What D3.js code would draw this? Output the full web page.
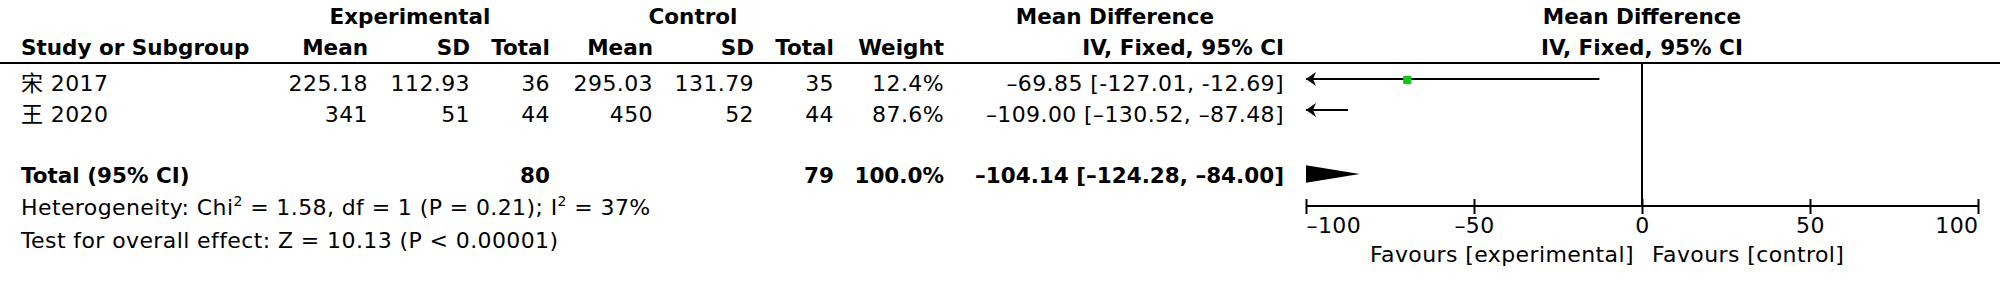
<!DOCTYPE html>
<html>
<head>
<meta charset="utf-8">
<script src="https://cdn.jsdelivr.net/npm/d3@7"></script>
<style>
  html, body { margin: 0; padding: 0; background: #fff; }
  svg text { font-family: "DejaVu Sans", "Noto Sans CJK SC", sans-serif; font-size: 22px; letter-spacing: 0.4px; fill: #000; }
  svg text.b { font-weight: bold; font-size: 21.5px; letter-spacing: 0; }
</style>
</head>
<body>
<div id="canvas"></div>
<script>
// //The data.
var studies = ["宋 2017", "王 2020"];
var expMean = [225.18, 341];
var expSD = [112.93, 51];
var expN = [36, 44];
var ctlMean = [295.03, 450];
var ctlSD = [131.79, 52];
var ctlN = [35, 44];
var weights = [12.4, 87.6];
var md = [-69.85, -109.00];
var mdLo = [-127.01, -130.52];
var mdHi = [-12.69, -87.48];
var loText = ["-127.01", "–130.52"];   // the first row uses a plain hyphen in the picture
var hiText = ["-12.69", "–87.48"];

var totalExpN = [80];
var totalCtlN = [79];
var totalWeight = [100.0];
var totalMd = [-104.14, -124.28, -84.00];   // estimate, lower, upper

var het = { chi2: 1.58, df: 1, p: "0.21", i2: 37 };
var overall = { z: 10.13, p: "< 0.00001" };

var ticks = [-100, -50, 0, 50, 100];
var favours = ["Favours [experimental]", "Favours [control]"];

window.app = {};

function dash(v) {
  return v < 0 ? "–" + String(Math.abs(v)) : String(v);
}
function dash2(v) {
  return v < 0 ? "–" + Math.abs(v).toFixed(2) : v.toFixed(2);
}

// //Draws the whole forest plot.
window.app.RenderForest = function () {
  var svg = d3.select("#canvas").append("svg")
      .attr("width", 2000)
      .attr("height", 286);

  svg.append("rect").attr("width", 2000).attr("height", 286).attr("fill", "#fff");

  var x = d3.scaleLinear().domain([-100, 100]).range([1306, 1978]);

  // columns: right edges of the numeric columns
  var col = { study: 21, eMean: 368, eSD: 470, eN: 550, cMean: 653, cSD: 754, cN: 834, w: 944, ci: 1284 };
  var rowY = [91, 122];
  var totalY = 183;

  function txt(xp, yp, s, anchor, cls) {
    return svg.append("text")
      .attr("x", xp).attr("y", yp)
      .attr("text-anchor", anchor || "end")
      .attr("class", cls || null)
      .text(s);
  }

  // headers
  txt(410, 24, "Experimental", "middle", "b");
  txt(693, 24, "Control", "middle", "b");
  txt(1115, 24, "Mean Difference", "middle", "b");
  txt(x(0), 24, "Mean Difference", "middle", "b");

  txt(col.study, 55, "Study or Subgroup", "start", "b");
  txt(col.eMean, 55, "Mean", "end", "b");
  txt(col.eSD, 55, "SD", "end", "b");
  txt(col.eN, 55, "Total", "end", "b");
  txt(col.cMean, 55, "Mean", "end", "b");
  txt(col.cSD, 55, "SD", "end", "b");
  txt(col.cN, 55, "Total", "end", "b");
  txt(col.w, 55, "Weight", "end", "b");
  txt(col.ci, 55, "IV, Fixed, 95% CI", "end", "b");
  txt(x(0), 55, "IV, Fixed, 95% CI", "middle", "b");

  svg.append("line")
    .attr("x1", 0).attr("x2", 2000)
    .attr("y1", 63).attr("y2", 63)
    .attr("stroke", "#000").attr("stroke-width", 2);

  // study rows
  studies.forEach(function (s, i) {
    var y = rowY[i];
    txt(col.study, y, s, "start");
    txt(col.eMean, y, String(expMean[i]));
    txt(col.eSD, y, String(expSD[i]));
    txt(col.eN, y, String(expN[i]));
    txt(col.cMean, y, String(ctlMean[i]));
    txt(col.cSD, y, String(ctlSD[i]));
    txt(col.cN, y, String(ctlN[i]));
    txt(col.w, y, weights[i].toFixed(1) + "%");
    txt(col.ci, y, dash2(md[i]) + " [" + loText[i] + ", " + hiText[i] + "]");
  });

  // total row
  txt(col.study, totalY, "Total (95% CI)", "start", "b");
  txt(col.eN, totalY, String(totalExpN[0]), "end", "b");
  txt(col.cN, totalY, String(totalCtlN[0]), "end", "b");
  txt(col.w, totalY, totalWeight[0].toFixed(1) + "%", "end", "b");
  txt(col.ci, totalY, dash2(totalMd[0]) + " [" + dash2(totalMd[1]) + ", " + dash2(totalMd[2]) + "]", "end", "b");

  // heterogeneity and overall effect
  var h = txt(col.study, 215, "", "start");
  h.append("tspan").text("Heterogeneity: Chi");
  h.append("tspan").attr("font-size", "14px").attr("dy", -9).text("2");
  h.append("tspan").attr("dy", 9).text(" = " + het.chi2.toFixed(2) + ", df = " + het.df + " (P = " + het.p + "); I");
  h.append("tspan").attr("font-size", "14px").attr("dy", -9).text("2");
  h.append("tspan").attr("dy", 9).text(" = " + het.i2 + "%");

  txt(col.study, 248, "Test for overall effect: Z = " + overall.z.toFixed(2) + " (P " + overall.p + ")", "start");

  // plot area
  var plotTop = 63, axisY = 206;

  svg.append("line")
    .attr("x1", x(0)).attr("x2", x(0))
    .attr("y1", plotTop).attr("y2", axisY)
    .attr("stroke", "#000").attr("stroke-width", 2);

  var dom = x.domain();

  studies.forEach(function (s, i) {
    var y = rowY[i] - 12;
    var a = Math.max(mdLo[i], dom[0]), b = Math.min(mdHi[i], dom[1]);
    svg.append("line")
      .attr("x1", x(a)).attr("x2", x(b))
      .attr("y1", y).attr("y2", y)
      .attr("stroke", "#000").attr("stroke-width", 2);
    if (mdLo[i] < dom[0]) {
      var t = x(dom[0]);
      svg.append("path")
        .attr("d", "M" + t + "," + y + "L" + (t + 10) + "," + (y - 7) + "L" + (t + 7) + "," + y + "L" + (t + 10) + "," + (y + 7) + "Z")
        .attr("fill", "#000");
    }
    if (md[i] >= dom[0] && md[i] <= dom[1]) {
      var sz = 2 + weights[i] * 0.5;
      svg.append("rect")
        .attr("x", x(md[i]) - sz / 2).attr("y", y - sz / 2 + 1)
        .attr("width", sz).attr("height", sz)
        .attr("fill", "#17c417");
    }
  });

  // total diamond, clipped to the axis range
  svg.append("clipPath").attr("id", "plotclip")
    .append("rect")
      .attr("x", x(dom[0])).attr("y", 0)
      .attr("width", x(dom[1]) - x(dom[0])).attr("height", 286);

  var dy = totalY - 9;
  var pts = [[x(totalMd[1]), dy], [x(totalMd[0]), dy - 11], [x(totalMd[2]), dy], [x(totalMd[0]), dy + 11]];
  svg.append("polygon")
    .attr("points", pts.map(function (p) { return p.join(","); }).join(" "))
    .attr("clip-path", "url(#plotclip)")
    .attr("fill", "#000");

  // axis
  var axis = d3.axisBottom(x)
    .tickValues(ticks)
    .tickSize(8)
    .tickFormat(dash);

  var g = svg.append("g")
      .attr("transform", "translate(0," + axisY + ")")
      .call(axis);

  g.select(".domain").attr("stroke-width", 2).attr("d", "M" + x(dom[0]) + ",0H" + x(dom[1]));
  g.selectAll(".tick line").attr("y1", -7).attr("y2", 8).attr("stroke-width", 2);
  g.selectAll(".tick text")
    .attr("y", 27).attr("dy", 0)
    .attr("text-anchor", function (d, i) { return i == 0 ? "start" : (i == ticks.length - 1 ? "end" : "middle"); });
  g.attr("font-size", null).attr("font-family", null);

  txt(x(0) - 8, 262, favours[0], "end");
  txt(x(0) + 10, 262, favours[1], "start");
}

window.app.RenderForest();
</script>
</body>
</html>
